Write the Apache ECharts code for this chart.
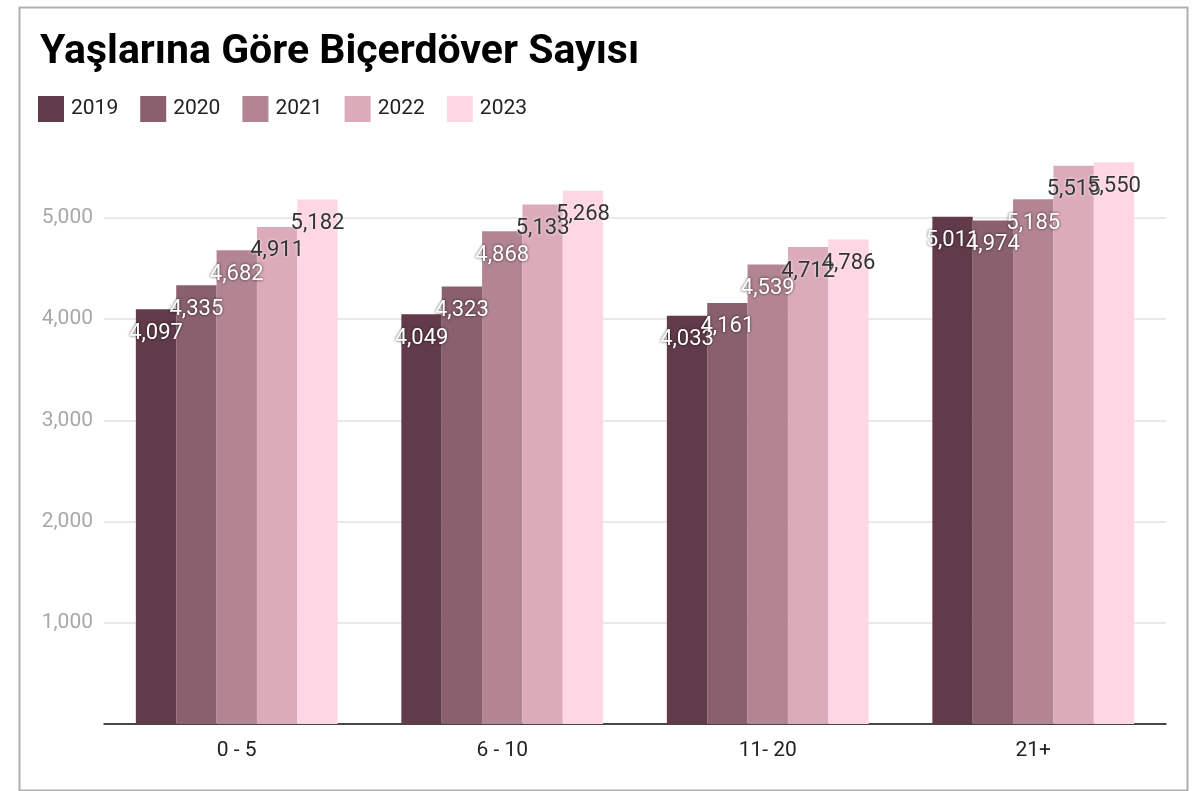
<!DOCTYPE html>
<html>
<head>
<meta charset="utf-8">
<script src="https://cdn.jsdelivr.net/npm/echarts@6/dist/echarts.min.js"></script>
<style>
  html, body { margin: 0; padding: 0; background: #fff; }
  #chart { width: 1198px; height: 791px; }
</style>
</head>
<body>
<div id="chart"></div>
<script>
// Combine harvester counts by machine age group, 2019–2023
const categories = ['0 - 5', '6 - 10', '11- 20', '21+'];
const years = ['2019', '2020', '2021', '2022', '2023'];
const v2019 = [4097, 4049, 4033, 5011];
const v2020 = [4335, 4323, 4161, 4974];
const v2021 = [4682, 4868, 4539, 5185];
const v2022 = [4911, 5133, 4712, 5515];
const v2023 = [5182, 5268, 4786, 5550];
const yTicks = [0, 1000, 2000, 3000, 4000, 5000];

const seriesValues = [v2019, v2020, v2021, v2022, v2023];
const colors = ['#623b4a', '#8a606e', '#b38592', '#dcabba', '#ffd6e4'];

const fmt = n => n.toLocaleString('en-US');

const series = years.map((y, i) => {
  const light = i >= 3;
  return {
    name: y,
    type: 'bar',
    data: seriesValues[i],
    barGap: '0%',
    barCategoryGap: '24%',
    itemStyle: { color: colors[i] },
    label: {
      show: true,
      position: 'insideTop',
      distance: 13,
      formatter: p => fmt(p.value),
      fontFamily: 'Roboto',
      fontSize: 22,
      color: light ? '#333333' : '#ffffff',
      textShadowColor: light ? 'rgba(255,255,255,0.95)' : 'rgba(0,0,0,0.75)',
      textShadowBlur: 3
    }
  };
});

const chart = echarts.init(document.getElementById('chart'));
chart.setOption({
  animation: false,
  backgroundColor: '#ffffff',
  textStyle: { fontFamily: 'Roboto' },
  graphic: [{
    type: 'rect',
    left: 17, top: 5,
    shape: { width: 1168, height: 783 },
    style: { fill: 'none', stroke: '#b0b0b0', lineWidth: 2 },
    silent: true
  }],
  title: {
    text: 'Yaşlarına Göre Biçerdöver Sayısı',
    left: 35, top: 27,
    textStyle: { fontFamily: 'Roboto', fontWeight: 'bold', fontSize: 41, color: '#000' }
  },
  legend: {
    left: 38, top: 96,
    padding: 0,
    itemWidth: 26, itemHeight: 26,
    itemGap: 22,
    icon: 'rect',
    textStyle: { fontFamily: 'Roboto', fontSize: 21, color: '#222', padding: [0, 0, 0, 2] },
    data: years
  },
  grid: { left: 104, right: 32, top: 137, bottom: 67, containLabel: false },
  xAxis: {
    type: 'category',
    data: categories,
    axisLine: { lineStyle: { color: '#111', width: 1.5 } },
    axisTick: { show: false },
    axisLabel: { fontFamily: 'Roboto', fontSize: 21, color: '#222', margin: 16 }
  },
  yAxis: {
    type: 'value',
    min: yTicks[0],
    max: 5800,
    interval: 1000,
    axisLine: { show: false },
    axisTick: { show: false },
    axisLabel: {
      fontFamily: 'Roboto', fontSize: 21, color: '#a8a8a8', margin: 11,
      showMaxLabel: false,
      formatter: v => (v === 0 || yTicks.indexOf(v) < 0) ? '' : fmt(v)
    },
    splitLine: { lineStyle: { color: '#e2e2e2', width: 1.5 }, showMaxLine: false }
  },
  series: series
});
</script>
</body>
</html>
